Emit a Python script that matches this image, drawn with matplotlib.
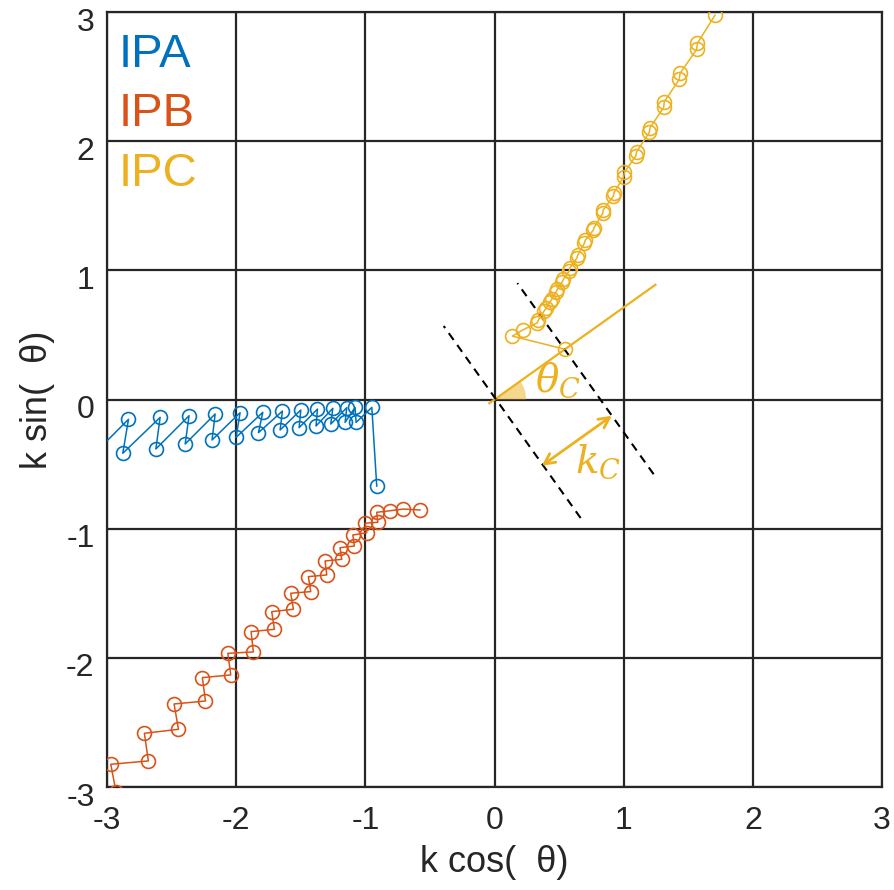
import matplotlib
matplotlib.use("Agg")
import matplotlib.pyplot as plt
from matplotlib.patches import Wedge
from matplotlib.transforms import ScaledTranslation
import numpy as np

# ==========================================================
# Data
# ==========================================================

ipa_x = [-3.13, -2.834, -2.878, -2.589, -2.622, -2.365, -2.395, -2.163, -2.187,
         -1.970, -2.001, -1.794, -1.828, -1.642, -1.660, -1.500, -1.513, -1.371,
         -1.382, -1.252, -1.268, -1.144, -1.157, -1.080, -1.072, -0.950, -0.912]
ipa_y = [-0.45, -0.153, -0.416, -0.138, -0.383, -0.125, -0.344, -0.112, -0.313,
         -0.102, -0.293, -0.099, -0.257, -0.089, -0.236, -0.081, -0.218, -0.074,
         -0.205, -0.068, -0.190, -0.063, -0.177, -0.061, -0.177, -0.061, -0.670]

ipb_x = [-2.93, -2.971, -2.680, -2.711, -2.447, -2.481, -2.238, -2.262, -2.042,
         -2.065, -1.867, -1.885, -1.704, -1.725, -1.557, -1.578, -1.423, -1.441,
         -1.299, -1.312, -1.183, -1.196, -1.085, -1.097, -0.989, -1.002, -0.904,
         -0.912, -0.809, -0.706, -0.577]
ipb_y = [-3.04, -2.824, -2.798, -2.584, -2.553, -2.357, -2.334, -2.153, -2.132,
         -1.965, -1.954, -1.797, -1.779, -1.642, -1.624, -1.500, -1.487, -1.371,
         -1.358, -1.250, -1.237, -1.147, -1.134, -1.049, -1.031, -0.958, -0.950,
         -0.873, -0.861, -0.848, -0.855]

ipc_x = [0.546, 0.138, 0.218, 0.331, 0.339, 0.385, 0.399, 0.430, 0.443, 0.476,
         0.486, 0.525, 0.533, 0.579, 0.584, 0.636, 0.644, 0.695, 0.703, 0.765,
         0.770, 0.837, 0.842, 0.920, 0.925, 1.000, 1.005, 1.093, 1.100, 1.198,
         1.204, 1.310, 1.314, 1.430, 1.436, 1.565, 1.570, 1.707]
ipc_y = [0.389, 0.491, 0.538, 0.594, 0.615, 0.687, 0.706, 0.757, 0.776, 0.834,
         0.853, 0.912, 0.930, 0.997, 1.020, 1.093, 1.118, 1.209, 1.234, 1.312,
         1.330, 1.441, 1.467, 1.575, 1.601, 1.724, 1.758, 1.885, 1.918, 2.068,
         2.104, 2.262, 2.305, 2.478, 2.525, 2.710, 2.757, 2.976]

labels = ["IPA", "IPB", "IPC"]
colors = ["#0072BD", "#D95319", "#EDB120"]

ticks = [-3, -2, -1, 0, 1, 2, 3]

# annotation geometry (data units, along / across the theta_c direction)
theta_c = 35.5
beam_r = (-0.05, 1.53)
k_c = 0.667
dash_1 = (0.01, -1.134, 0.692)   # (offset along u, n start, n end)
dash_2 = (0.667, -1.186, 0.631)
arrow_n = -0.63


# ==========================================================
# Figure
# ==========================================================

plt.rcParams["font.family"] = ["Liberation Sans", "DejaVu Sans"]
plt.rcParams["mathtext.fontset"] = "dejavuserif"

fig = plt.figure(figsize=(8.95, 8.9), dpi=100)
ax = fig.add_axes([0.1196, 0.1157, 0.8659, 0.8708])

grid_kw = dict(color="#262626", linewidth=1.6, zorder=1)
for t in ticks:
    ax.axvline(t, **grid_kw)
    ax.axhline(t, **grid_kw)

series = [(ipa_x, ipa_y), (ipb_x, ipb_y), (ipc_x, ipc_y)]
for (xs, ys), c in zip(series, colors):
    ax.plot(
        xs,
        ys,
        color=c,
        linewidth=1.1,
        marker="o",
        markersize=10,
        markerfacecolor="none",
        markeredgewidth=1.2,
        zorder=3,
    )

for i, (lab, c) in enumerate(zip(labels, colors)):
    ax.text(
        0.015,
        0.973 - i * 0.0765,
        lab,
        transform=ax.transAxes,
        color=c,
        fontsize=34,
        ha="left",
        va="top",
        zorder=4,
    )

# ---- theta_c / k_c sketch ----
yel = colors[2]
th = np.deg2rad(theta_c)
u = np.array([np.cos(th), np.sin(th)])
n = np.array([-np.sin(th), np.cos(th)])

ax.plot(
    [beam_r[0] * u[0], beam_r[1] * u[0]],
    [beam_r[0] * u[1], beam_r[1] * u[1]],
    color=yel,
    linewidth=1.6,
    zorder=2,
)

ax.add_patch(
    Wedge((0, 0), 0.245, 0, theta_c, facecolor=yel, alpha=0.5,
          edgecolor="none", zorder=2)
)

for d, a, b in [dash_1, dash_2]:
    p = d * u + a * n
    q = d * u + b * n
    ax.plot(
        [p[0], q[0]],
        [p[1], q[1]],
        color="black",
        linestyle=(0, (4, 3)),
        linewidth=1.5,
        zorder=2,
    )

ax.annotate(
    "",
    xy=k_c * u + arrow_n * n,
    xytext=0.0 * u + arrow_n * n,
    arrowprops=dict(arrowstyle="<->,head_length=0.75,head_width=0.38",
                    color=yel, linewidth=2.0, shrinkA=0, shrinkB=0),
    zorder=3,
)

ax.text(0.49, 0.15, r"$\theta_C$", color=yel, fontsize=28,
        ha="center", va="center", zorder=4)
ax.text(0.80, -0.48, r"$k_C$", color=yel, fontsize=28,
        ha="center", va="center", zorder=4)

ax.set_xlim(-3, 3)
ax.set_ylim(-3, 3)
ax.set_xticks(ticks)
ax.set_yticks(ticks)
ax.set_xticklabels([str(t) for t in ticks])
ax.set_yticklabels([str(t) for t in ticks])
ax.tick_params(direction="in", length=0, labelsize=23, colors="#262626")
ax.tick_params(axis="x", pad=14)
ax.tick_params(axis="y", pad=9)

# MATLAB places y tick labels a little below their grid line
shift = ScaledTranslation(0, -7 / 100, fig.dpi_scale_trans)
for lab in ax.get_yticklabels():
    lab.set_transform(lab.get_transform() + shift)

for s in ax.spines.values():
    s.set_linewidth(1.6)
    s.set_color("#262626")

ax.set_xlabel("k cos(  θ)", fontsize=26, color="#262626", labelpad=6)
ax.set_ylabel("k sin(  θ)", fontsize=26, color="#262626", labelpad=8)

fig.savefig("out.png", dpi=100)
plt.close(fig)
